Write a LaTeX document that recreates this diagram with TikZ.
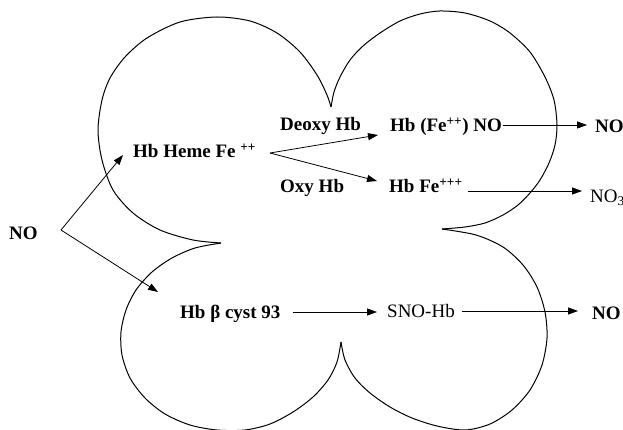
\documentclass[tikz,border=0pt]{standalone}
\usepackage{fontspec}
\setmainfont{Liberation Serif}
\usetikzlibrary{arrows.meta}
\begin{document}
\begin{tikzpicture}[x=1pt,y=-1pt,
  txt/.style={inner sep=0pt, anchor=west, text height=13pt, text depth=0pt,
              font=\fontsize{19}{22}\selectfont},
  lblb/.style={txt, font=\fontsize{19}{22}\selectfont\bfseries},
  arr/.style={draw, line width=0.8pt, -{Triangle[length=10pt,width=7pt]}},
  lobe/.style={draw, line width=1pt, line join=round}]

\useasboundingbox (0,0) rectangle (623,430);
\fill[white] (0,0) rectangle (623,430);
\clip (0,0) rectangle (623,430);

% four-lobed outline, one smooth curve per lobe between the cusps
\draw[lobe] plot[smooth] coordinates {
  (221,243) (193,240) (160,230) (133,213) (113,190) (102,160) (98,130)
  (102,100) (110,78) (125,57) (147,38) (180,22) (217,17) (250,21)
  (277,33) (300,52) (317,75) (327,95) (331,107)};
\draw[lobe] plot[smooth] coordinates {
  (331,107) (334,92) (340,77) (350,60) (363,46) (380,33) (400,21)
  (420,14) (440,11) (465,13) (490,21) (510,33) (530,52) (545,77)
  (554,100) (557,125) (555,145) (549,163) (540,180) (530,193)
  (518,205) (503,215) (485,223) (465,227) (442,229)};
\draw[lobe] plot[smooth] coordinates {
  (442,229) (476,235) (503,247) (523,265) (537,287) (545,312)
  (547,338) (542,365) (530,390) (512,410) (490,424) (465,430)
  (437,426) (412,418) (390,407) (370,393) (355,378) (345,360) (341,342)};
\draw[lobe] plot[smooth] coordinates {
  (341,342) (337,362) (328,380) (313,397) (293,412) (270,424)
  (245,430) (217,430) (190,425) (165,414) (145,398) (130,378)
  (122,355) (121,332) (126,310) (136,290) (152,272) (172,258)
  (195,248) (221,243)};

% labels
\node[lblb] (noL)   at (9,233)   {NO};
\node[lblb] (heme)  at (133,151) {Hb Heme Fe \textsuperscript{++}};
\node[lblb] (deoxy) at (280,124) {Deoxy Hb};
\node[lblb] (hbno)  at (390,125) {Hb (Fe\textsuperscript{++}) NO};
\node[lblb] (noA)   at (595,126) {NO};
\node[lblb] (oxy)   at (280,186) {Oxy Hb};
\node[lblb] (hbfe)  at (389,186) {Hb Fe\textsuperscript{+++}};
\node[txt]  (noB)   at (590,196) {NO\textsubscript{3}};
\node[lblb] (cyst)  at (180,312) {Hb β cyst 93};
\node[txt]  (sno)   at (387,311) {SNO-Hb};
\node[lblb] (noC)   at (592,313) {NO};

\coordinate (v) at (61,230);
\coordinate (f) at (270,153);

% NO enters both pathways
\draw[arr] (v) -- ([xshift=-10pt,yshift=-4pt]heme.west);
\draw[arr] (v) -- ([xshift=-22pt,yshift=20pt]cyst.west);

% heme branch
\draw[arr] (f) -- ([xshift=-12pt,yshift=-10pt]hbno.west);
\draw[arr] (f) -- ([xshift=-12pt,yshift=5pt]hbfe.west);
\draw[arr, shorten <=1pt, shorten >=8pt] (hbno.east) -- (hbno.east -| noA.west);
\draw[arr, shorten <=5pt, shorten >=8pt]
  ([yshift=-5pt]hbfe.east) -- ([yshift=-5pt]hbfe.east -| noB.west);

% cysteine branch
\draw[arr, shorten <=12pt, shorten >=10pt] (cyst.east) -- (cyst.east -| sno.west);
\draw[arr, shorten <=7pt, shorten >=14pt] (sno.east) -- (sno.east -| noC.west);
\end{tikzpicture}
\end{document}
